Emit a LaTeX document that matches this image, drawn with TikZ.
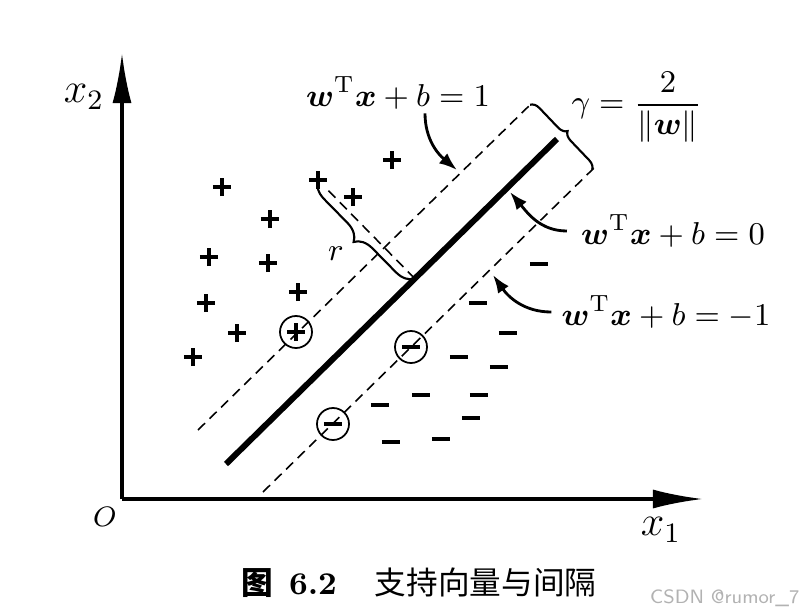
\documentclass[tikz,border=0pt]{standalone}
\usepackage{amsmath,amssymb}
\usepackage{fontspec}
\newfontfamily\cjk{Noto Sans CJK SC}
\usetikzlibrary{arrows.meta,decorations.pathreplacing,calc}

\begin{document}
\begin{tikzpicture}[
  x=0.01cm, y=0.01cm,
  font=\fontsize{9.5}{11}\selectfont,
  axis/.style={line width=0.9pt, -{Latex[length=5mm,width=1.9mm]}},
  sepline/.style={line width=0.45pt, dash pattern=on 2.8pt off 1.8pt},
  hyper/.style={line width=1.7pt},
  pointer/.style={line width=0.8pt, -{Latex[length=1.8mm,width=1.3mm]}},
  bracket/.style={line width=0.6pt, decorate, decoration={brace, amplitude=#1}},
  flatbracket/.style={line width=0.6pt, decorate, decoration={brace, amplitude=0.09cm, raise=-0.04cm}},
  eqlabel/.style={inner sep=1pt},
  plusmark/.style={inner sep=0pt, minimum size=0.2cm, path picture={
    \draw[line width=1.15pt] ([xshift=-0.09cm]path picture bounding box.center) -- ([xshift=0.09cm]path picture bounding box.center)
      ([yshift=-0.09cm]path picture bounding box.center) -- ([yshift=0.09cm]path picture bounding box.center);}},
  minusmark/.style={inner sep=0pt, minimum size=0.2cm, path picture={
    \draw[line width=1.15pt] ([xshift=-0.09cm]path picture bounding box.center) -- ([xshift=0.09cm]path picture bounding box.center);}},
  ring/.style={draw, circle, line width=0.5pt, minimum size=0.32cm}
]
\useasboundingbox (0,0) rectangle (805,614);

\coordinate (origin) at (122,115);
\coordinate (ytip) at (122,561);
\coordinate (xtip) at (703,115);
\draw[axis] (origin) -- (ytip);
\draw[axis] (origin) -- (xtip);
\node[font=\large] (x2lab) at (84,517) {$x_2$};
\node[font=\large] (x1lab) at (661,84) {$x_1$};
\node[font=\footnotesize] (olab) at (105,97) {$O$};

\coordinate (m1) at (226,150);
\coordinate (m2) at (557,475);
\coordinate (u1) at (198,184);
\coordinate (u2) at (533,512);
\coordinate (l1) at (263,122);
\coordinate (l2) at (595,447);
\draw[hyper] (m1) -- (m2);
\draw[sepline] (u1) -- (u2);
\draw[sepline] (l1) -- (l2);
\draw[flatbracket] (u2) -- (l2);

\node[plusmark] (p1) at (392,454) {};
\node[plusmark] (p2) at (222,427) {};
\node[plusmark] (p3) at (318,434) {};
\node[plusmark] (p4) at (353,417) {};
\node[plusmark] (p5) at (270,395) {};
\node[plusmark] (p6) at (209,357) {};
\node[plusmark] (p7) at (268,351) {};
\node[plusmark] (p8) at (206,311) {};
\node[plusmark] (p9) at (298,322) {};
\node[plusmark] (p10) at (237,281) {};
\node[plusmark] (p11) at (193,257) {};
\node[plusmark, ring] (pc) at (296,282) {};

\node[minusmark] (n1) at (539,350) {};
\node[minusmark] (n2) at (478,311) {};
\node[minusmark] (n3) at (508,281) {};
\node[minusmark] (n4) at (459,257) {};
\node[minusmark] (n5) at (499,247) {};
\node[minusmark] (n6) at (421,219) {};
\node[minusmark] (n7) at (479,219) {};
\node[minusmark] (n8) at (380,209) {};
\node[minusmark] (n9) at (471,196) {};
\node[minusmark] (n10) at (391,172) {};
\node[minusmark] (n11) at (441,175) {};
\node[minusmark, ring] (nc1) at (411,267) {};
\node[minusmark, ring] (nc2) at (333,190) {};

\coordinate (foot) at ($(m1)!(p3)!(m2)$);
\draw[sepline] (p3) -- (foot);
\draw[bracket=0.18cm] (foot) -- (p3.center);
\node (rlab) at (336,360) {$r$};

\node[eqlabel] (eq1) at (398,521) {$\boldsymbol{w}^{\mathrm{T}}\boldsymbol{x}+b=1$};
\node[eqlabel] (eq0) at (673,383) {$\boldsymbol{w}^{\mathrm{T}}\boldsymbol{x}+b=0$};
\node[eqlabel] (eqm1) at (666,302) {$\boldsymbol{w}^{\mathrm{T}}\boldsymbol{x}+b=-1$};
\node[eqlabel] (gam) at (637,507) {$\gamma=\dfrac{2}{\|\boldsymbol{w}\|}$};

\coordinate (t1) at (457,444);
\coordinate (t0) at (510,422);
\coordinate (tm1) at (493,339);
\draw[pointer] ([xshift=0.27cm]eq1.south) to[out=-90, in=140] (t1);
\draw[pointer] ([xshift=-0.1cm]eq0.west) to[out=180, in=-50] (t0);
\draw[pointer] ([xshift=-0.06cm]eqm1.west) to[out=180, in=-55] (tm1);

\node[font=\fontsize{9}{11}\selectfont] (caption) at (419,31) {{\cjk\bfseries 图}\hspace{0.5em}\textbf{6.2}\hspace{1.2em}{\cjk 支持向量与间隔}};
\node[text=gray!60, font=\fontsize{5.5}{7}\selectfont\sffamily, anchor=east, inner sep=0pt] (mark) at (800,16) {CSDN @rumor\_7};
\end{tikzpicture}
\end{document}
